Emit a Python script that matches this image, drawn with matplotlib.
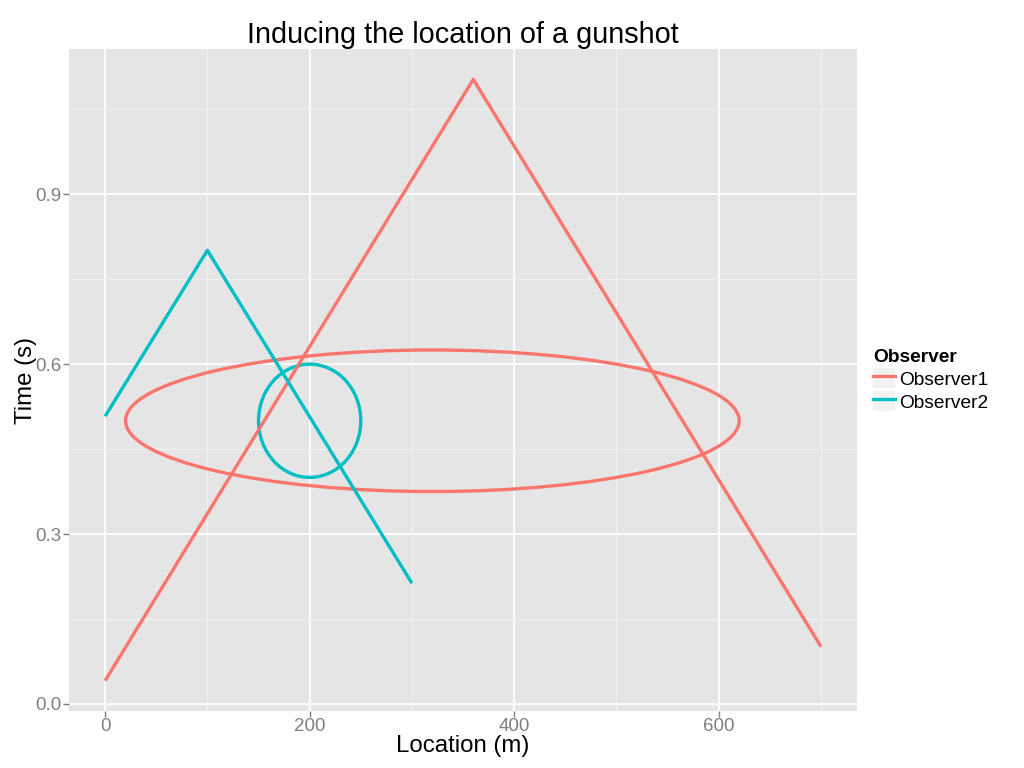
import matplotlib
matplotlib.use("Agg")
import matplotlib.pyplot as plt
from matplotlib.patches import Ellipse, Patch
from matplotlib.lines import Line2D

plt.rcParams["font.family"] = ["Liberation Sans", "DejaVu Sans"]

# triangles: time of arrival vs location
obs1_x = [0, 360, 700]
obs1_t = [0.041, 1.103, 0.101]
obs2_x = [0, 100, 300]
obs2_t = [0.508, 0.801, 0.213]

# ellipses: centre, width, height
obs1_ell = (320, 0.5, 600, 0.25)
obs2_ell = (200, 0.5, 100, 0.2)

names = ["Observer1", "Observer2"]
colors = ["#F8766D", "#00BFC4"]

fig = plt.figure(figsize=(10.24, 7.68), dpi=100)
ax = fig.add_axes([0.0677, 0.0746, 0.769, 0.8612])
ax.set_facecolor("#E5E5E5")
for s in ax.spines.values():
    s.set_visible(False)

ax.set_xlim(-35, 735)
ax.set_ylim(-0.0121, 1.1561)
ax.set_xticks([0, 200, 400, 600])
ax.set_yticks([0.0, 0.3, 0.6, 0.9])
ax.set_yticklabels(["0.0", "0.3", "0.6", "0.9"])
ax.set_xticks([100, 300, 500, 700], minor=True)
ax.set_yticks([0.15, 0.45, 0.75, 1.05], minor=True)
ax.grid(which="major", color="white", lw=1.3)
ax.grid(which="minor", color="#F2F2F2", lw=0.8)
ax.set_axisbelow(True)
ax.tick_params(which="major", colors="#7F7F7F", length=4, width=1,
               labelsize=13.5, pad=1.5)
ax.tick_params(which="minor", length=0)

lw = 2.4
ax.plot(obs1_x, obs1_t, color=colors[0], lw=lw, solid_capstyle="butt")
ax.plot(obs2_x, obs2_t, color=colors[1], lw=lw, solid_capstyle="butt")
for (cx, cy, w, h), c in zip([obs1_ell, obs2_ell], colors):
    ax.add_patch(Ellipse((cx, cy), w, h, fill=False, edgecolor=c, lw=lw))

ax.set_title("Inducing the location of a gunshot", fontsize=20.8, pad=3)
ax.set_xlabel("Location (m)", fontsize=17.3, labelpad=0)
ax.set_ylabel("Time (s)", fontsize=17.3, labelpad=-1)

handles = [(Patch(facecolor="#F2F2F2", edgecolor="none"), Line2D([], [], color=c, lw=lw))
           for c in colors]
leg = fig.legend(handles, names, title="Observer", loc="center left",
                 bbox_to_anchor=(0.853, 0.505), frameon=False, fontsize=13.8,
                 handlelength=1.1, handleheight=1.25, handletextpad=0.22,
                 labelspacing=0.12, borderpad=0, borderaxespad=0)
leg.get_title().set_fontweight("bold")
leg.get_title().set_fontsize(13.8)
leg._legend_box.align = "left"

fig.savefig("out.png", dpi=100)
